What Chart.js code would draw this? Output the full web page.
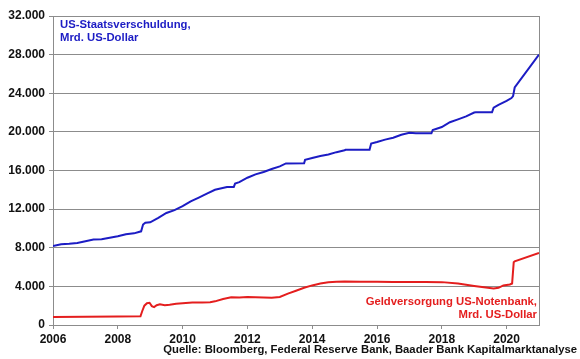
<!DOCTYPE html>
<html>
<head>
<meta charset="utf-8">
<script src="https://cdn.jsdelivr.net/npm/chart.js@4.4.0/dist/chart.umd.min.js"></script>
<style>
  html, body { margin: 0; padding: 0; background: #fff; }
  #wrap { width: 580px; height: 359px; }
</style>
</head>
<body>
<div id="wrap"><canvas id="c" width="580" height="359"></canvas></div>
<script>
// ---- data (decimal years, Mrd. US-Dollar) --------------------------------
const debtYears = [2006.0, 2006.25, 2006.5, 2006.75, 2007.0, 2007.25, 2007.5, 2007.75, 2008.0, 2008.25, 2008.5, 2008.72, 2008.78, 2008.85, 2009.0, 2009.25, 2009.5, 2009.75, 2010.0, 2010.25, 2010.5, 2010.75, 2011.0, 2011.37, 2011.58, 2011.62, 2011.75, 2012.0, 2012.25, 2012.5, 2012.75, 2013.0, 2013.19, 2013.75, 2013.78, 2014.0, 2014.25, 2014.5, 2014.75, 2015.0, 2015.03, 2015.77, 2015.82, 2016.0, 2016.25, 2016.5, 2016.75, 2017.0, 2017.2, 2017.68, 2017.72, 2018.0, 2018.25, 2018.5, 2018.75, 2019.0, 2019.05, 2019.55, 2019.6, 2019.75, 2020.0, 2020.15, 2020.2, 2020.25, 2021.0];
const debtValues = [8170, 8370, 8420, 8500, 8680, 8850, 8870, 9030, 9200, 9400, 9490, 9700, 10400, 10600, 10630, 11100, 11600, 11900, 12300, 12800, 13200, 13600, 14000, 14290, 14300, 14640, 14800, 15250, 15600, 15850, 16150, 16430, 16730, 16740, 17100, 17290, 17500, 17650, 17900, 18100, 18150, 18150, 18800, 18950, 19200, 19400, 19700, 19900, 19850, 19850, 20200, 20500, 21000, 21300, 21600, 22000, 22030, 22030, 22500, 22800, 23200, 23500, 23700, 24600, 28000];

const fedYears = [2006.0, 2007.0, 2008.0, 2008.7, 2008.75, 2008.82, 2008.9, 2008.98, 2009.05, 2009.12, 2009.2, 2009.3, 2009.45, 2009.6, 2009.8, 2010.0, 2010.3, 2010.6, 2010.85, 2011.0, 2011.25, 2011.5, 2011.75, 2012.0, 2012.25, 2012.5, 2012.75, 2013.0, 2013.25, 2013.5, 2013.75, 2014.0, 2014.25, 2014.5, 2014.75, 2015.0, 2015.5, 2016.0, 2016.5, 2017.0, 2017.5, 2018.0, 2018.5, 2018.75, 2019.0, 2019.3, 2019.6, 2019.75, 2019.9, 2020.1, 2020.17, 2020.22, 2020.25, 2021.0];
const fedValues = [830, 860, 880, 900, 1400, 2000, 2250, 2300, 1950, 1850, 2050, 2150, 2050, 2100, 2200, 2250, 2320, 2330, 2350, 2450, 2700, 2880, 2850, 2900, 2880, 2850, 2820, 2900, 3250, 3550, 3850, 4100, 4300, 4420, 4480, 4500, 4470, 4470, 4460, 4460, 4460, 4440, 4300, 4180, 4050, 3900, 3770, 3850, 4100, 4200, 4300, 6500, 6600, 7450];

const yearTicks = [2006, 2008, 2010, 2012, 2014, 2016, 2018, 2020];
const valueTicks = [0, 4000, 8000, 12000, 16000, 20000, 24000, 28000, 32000];

const debtLabel = ["US-Staatsverschuldung,", "Mrd. US-Dollar"];
const fedLabel = ["Geldversorgung US-Notenbank,", "Mrd. US-Dollar"];
const sourceLabel = "Quelle: Bloomberg, Federal Reserve Bank, Baader Bank Kapitalmarktanalyse";

const BLUE = "#1c1cc4";
const RED = "#e41e1e";
const FONT = "Arial, 'Liberation Sans', sans-serif";

// ---- helpers ---------------------------------------------------------------
function toPoints(xs, ys) {
  return xs.map((x, i) => ({ x: x, y: ys[i] }));
}
function deNumber(v) {
  return String(v).replace(/\B(?=(\d{3})+(?!\d))/g, ".");
}

// texts and right frame line
const annotations = {
  id: "annotations",
  afterDraw(chart) {
    const { ctx, chartArea } = chart;
    ctx.save();
    ctx.strokeStyle = "#8c8c8c";
    ctx.lineWidth = 1;
    ctx.beginPath();
    ctx.moveTo(Math.round(chartArea.right) + 0.5, chartArea.top);
    ctx.lineTo(Math.round(chartArea.right) + 0.5, chartArea.bottom);
    ctx.stroke();

    ctx.font = "bold 11.3px " + FONT;
    ctx.textBaseline = "middle";

    ctx.fillStyle = BLUE;
    ctx.textAlign = "left";
    ctx.fillText(debtLabel[0], 60, 25);
    ctx.fillText(debtLabel[1], 60, 38);

    ctx.fillStyle = RED;
    ctx.textAlign = "right";
    ctx.fillText(fedLabel[0], 537, 302);
    ctx.fillText(fedLabel[1], 537, 315);

    ctx.fillStyle = "#111";
    ctx.fillText(sourceLabel, 577, 350);
    ctx.restore();
  },
};

new Chart(document.getElementById("c"), {
  type: "line",
  data: {
    datasets: [
      {
        data: toPoints(debtYears, debtValues),
        borderColor: BLUE,
        borderWidth: 2,
        pointRadius: 0,
        tension: 0,
      },
      {
        data: toPoints(fedYears, fedValues),
        borderColor: RED,
        borderWidth: 2,
        pointRadius: 0,
        tension: 0,
      },
    ],
  },
  options: {
    responsive: false,
    animation: false,
    layout: { padding: { top: 16, right: 41, bottom: 0, left: 0 } },
    plugins: { legend: { display: false }, tooltip: { enabled: false } },
    scales: {
      x: {
        type: "linear",
        min: 2006,
        max: 2021,
        afterBuildTicks(scale) {
          scale.ticks = yearTicks.map((v) => ({ value: v }));
        },
        afterFit(scale) {
          scale.height = 34;
        },
        grid: { drawOnChartArea: false, tickLength: 4, color: "#8c8c8c" },
        border: { color: "#8c8c8c" },
        ticks: {
          autoSkip: false,
          maxRotation: 0,
          padding: 3,
          color: "#111",
          font: { family: FONT, size: 12, weight: "bold" },
          callback: (v) => String(v),
        },
      },
      y: {
        min: 0,
        max: 32000,
        afterBuildTicks(scale) {
          scale.ticks = valueTicks.map((v) => ({ value: v }));
        },
        afterFit(scale) {
          scale.width = 53;
        },
        grid: { color: "#8c8c8c", tickLength: 4 },
        border: { color: "#8c8c8c" },
        ticks: {
          padding: 4,
          color: "#111",
          font: { family: FONT, size: 12, weight: "bold" },
          callback: (v) => deNumber(v),
        },
      },
    },
  },
  plugins: [annotations],
});
</script>
</body>
</html>
